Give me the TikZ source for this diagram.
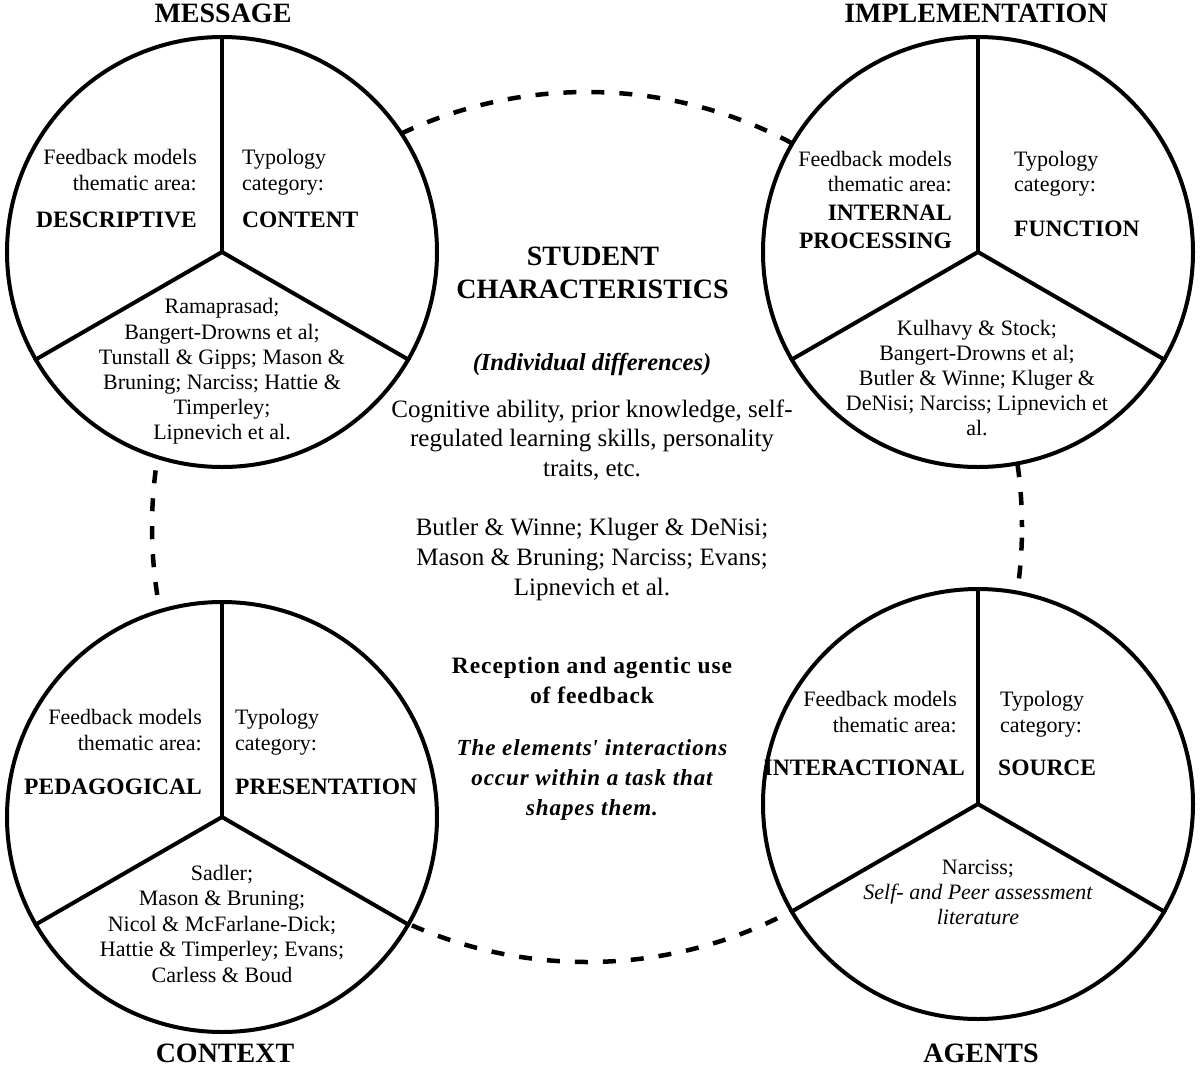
\documentclass[tikz,border=0pt]{standalone}
\usepackage{fontspec}
\setmainfont{Liberation Serif}
\newfontfamily\trackfont[LetterSpace=4]{Liberation Serif}
\begin{document}
\begin{tikzpicture}[x=1pt,y=-1pt,
  ring/.style={circle, draw, line width=4pt, fill=white, minimum size=430pt, inner sep=0pt},
  loopline/.style={circle, draw, line width=4.5pt, dash pattern=on 13pt off 15pt, dash phase=6pt, minimum size=870pt, inner sep=0pt},
  spoke/.style={line width=4pt},
  title/.style={font=\fontsize{28}{32}\selectfont\bfseries, inner sep=0pt, anchor=base},
  body/.style={font=\fontsize{22}{25}\selectfont, inner sep=0pt},
  lab/.style={font=\fontsize{23.5}{27}\selectfont\bfseries, inner sep=0pt},
  mid/.style={font=\fontsize{25}{29}\selectfont, inner sep=0pt, anchor=base},
  midb/.style={font=\fontsize{28}{32}\selectfont\bfseries, inner sep=0pt, anchor=base},
  midbi/.style={font=\fontsize{24.5}{29}\selectfont\bfseries\itshape, inner sep=0pt, anchor=base},
  trackb/.style={font=\fontsize{23.5}{28}\selectfont\trackfont\bfseries, inner sep=0pt, anchor=base},
  trackbi/.style={font=\fontsize{23}{28}\selectfont\trackfont\bfseries\itshape, inner sep=0pt, anchor=base},
]
\path[fill=white,use as bounding box] (0,0) rectangle (1200,1069);

% dashed linking circle
\node[loopline] (loop) at (587,527) {};

% four circles
\node[ring] (msg) at (222,252) {};
\node[ring] (imp) at (978,252) {};
\node[ring] (ctx) at (222,817) {};
\node[ring] (agt) at (978,804) {};

\foreach \c in {msg,imp,ctx,agt}{
  \draw[spoke] (\c.center) -- (\c.90);
  \draw[spoke] (\c.center) -- (\c.210);
  \draw[spoke] (\c.center) -- (\c.330);
}

% titles
\node[title] (tmsg) at (223,22) {MESSAGE};
\node[title] (timp) at (976,22) {IMPLEMENTATION};
\node[title] (tctx) at (225,1062) {CONTEXT};
\node[title] (tagt) at (981,1062) {AGENTS};

% MESSAGE circle
\node[body, anchor=base east] (m1) at (197,164) {Feedback models};
\node[body, anchor=base east] (m2) at (197,190) {thematic area:};
\node[lab, anchor=base east] (m3) at (197,227) {DESCRIPTIVE};
\node[body, anchor=base west] (m4) at (242,164) {Typology};
\node[body, anchor=base west] (m5) at (242,190) {category:};
\node[lab, anchor=base west] (m6) at (242,227) {CONTENT};
\node[body, anchor=base] (m7) at (222,313) {Ramaprasad;};
\node[body, anchor=base] (m8) at (222,339) {Bangert-Drowns et al;};
\node[body, anchor=base] (m9) at (222,364) {Tunstall \& Gipps; Mason \&};
\node[body, anchor=base] (m10) at (222,389) {Bruning; Narciss; Hattie \&};
\node[body, anchor=base] (m11) at (222,414) {Timperley;};
\node[body, anchor=base] (m12) at (222,439) {Lipnevich et al.};

% IMPLEMENTATION circle
\node[body, anchor=base east] (i1) at (952,166) {Feedback models};
\node[body, anchor=base east] (i2) at (952,191) {thematic area:};
\node[lab, anchor=base east] (i3) at (952,220) {INTERNAL};
\node[lab, anchor=base east] (i4) at (952,248) {PROCESSING};
\node[body, anchor=base west] (i5) at (1014,166) {Typology};
\node[body, anchor=base west] (i6) at (1014,191) {category:};
\node[lab, anchor=base west] (i7) at (1014,236) {FUNCTION};
\node[body, anchor=base] (i8) at (977,335) {Kulhavy \& Stock;};
\node[body, anchor=base] (i9) at (977,360) {Bangert-Drowns et al;};
\node[body, anchor=base] (i10) at (977,385) {Butler \& Winne; Kluger \&};
\node[body, anchor=base] (i11) at (977,410) {DeNisi; Narciss; Lipnevich et};
\node[body, anchor=base] (i12) at (977,435) {al.};

% CONTEXT circle
\node[body, anchor=base east] (c1) at (202,724) {Feedback models};
\node[body, anchor=base east] (c2) at (202,750) {thematic area:};
\node[lab, anchor=base east] (c3) at (202,794) {PEDAGOGICAL};
\node[body, anchor=base west] (c4) at (235,724) {Typology};
\node[body, anchor=base west] (c5) at (235,750) {category:};
\node[lab, anchor=base west] (c6) at (235,794) {PRESENTATION};
\node[body, anchor=base] (c7) at (222,880) {Sadler;};
\node[body, anchor=base] (c8) at (222,905.5) {Mason \& Bruning;};
\node[body, anchor=base] (c9) at (222,931) {Nicol \& McFarlane-Dick;};
\node[body, anchor=base] (c10) at (222,956.5) {Hattie \& Timperley; Evans;};
\node[body, anchor=base] (c11) at (222,982) {Carless \& Boud};

% AGENTS circle
\node[body, anchor=base east] (a1) at (957,706) {Feedback models};
\node[body, anchor=base east] (a2) at (957,732) {thematic area:};
\node[lab, anchor=base east] (a3) at (965,775) {INTERACTIONAL};
\node[body, anchor=base west] (a4) at (1000,706) {Typology};
\node[body, anchor=base west] (a5) at (1000,732) {category:};
\node[lab, anchor=base west] (a6) at (998,775) {SOURCE};
\node[body, anchor=base] (a7) at (978,874) {Narciss;};
\node[body, anchor=base] (a8) at (978,899) {\itshape Self- and Peer assessment};
\node[body, anchor=base] (a9) at (978,924) {\itshape literature};

% centre text
\node[midb] (s1) at (593,265) {STUDENT};
\node[midb] (s2) at (592.5,298) {CHARACTERISTICS};
\node[midbi] (s3) at (592,370) {(Individual differences)};
\node[mid] (s4) at (592,417) {Cognitive ability, prior knowledge, self-};
\node[mid] (s5) at (592,446.5) {regulated learning skills, personality};
\node[mid] (s6) at (592,476) {traits, etc.};
\node[mid] (s7) at (592,535) {Butler \& Winne; Kluger \& DeNisi;};
\node[mid] (s8) at (592,565) {Mason \& Bruning; Narciss; Evans;};
\node[mid] (s9) at (592,595) {Lipnevich et al.};
\node[trackb] (r1) at (592,673) {Reception and agentic use};
\node[trackb] (r2) at (592,703) {of feedback};
\node[trackbi] (r3) at (592,755) {The elements\textquotesingle{} interactions};
\node[trackbi] (r4) at (592,785) {occur within a task that};
\node[trackbi] (r5) at (592,815) {shapes them.};
\end{tikzpicture}
\end{document}
